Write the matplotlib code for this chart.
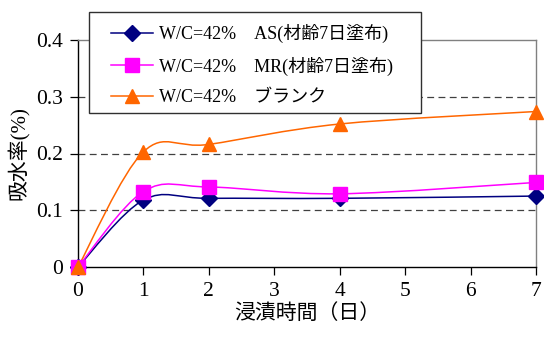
import numpy as np
import matplotlib
matplotlib.use("Agg")
import matplotlib.pyplot as plt
from matplotlib.path import Path
from matplotlib.patches import PathPatch, Rectangle
from matplotlib.lines import Line2D

# immersion days and water absorption (%)
days = [0, 1, 2, 4, 7]
as_vals = [0.0, 0.118, 0.121, 0.121, 0.125]
mr_vals = [0.0, 0.133, 0.141, 0.129, 0.149]
blank_vals = [0.0, 0.203, 0.216, 0.252, 0.274]

series_labels = [
    "W/C=42%\u3000AS(材齢7日塗布)",
    "W/C=42%\u3000MR(材齢7日塗布)",
    "W/C=42%\u3000ブランク",
]
series_colors = ["#000080", "#FF00FF", "#FF6600"]
series_markers = ["D", "s", "^"]
series_msizes = [8, 10, 10.5]

x_ticks = [0, 1, 2, 3, 4, 5, 6, 7]
y_ticks = [0, 0.1, 0.2, 0.3, 0.4]
y_ticklabels = ["0", "0.1", "0.2", "0.3", "0.4"]

FAM = ["Liberation Serif", "Noto Sans CJK JP"]
plt.rcParams["font.family"] = FAM

W, H = 544, 340


def smooth_path(xs, ys):
    """Cubic Bezier through the points (Catmull-Rom style control points)."""
    pts = np.column_stack([xs, ys]).astype(float)
    n = len(pts)
    verts = [pts[0]]
    codes = [Path.MOVETO]
    for i in range(n - 1):
        p0 = pts[i - 1] if i > 0 else pts[i]
        p1 = pts[i]
        p2 = pts[i + 1]
        p3 = pts[i + 2] if i + 2 < n else pts[i + 1]
        c1 = p1 + (p2 - p0) / 6.0
        c2 = p2 - (p3 - p1) / 6.0
        verts += [c1, c2, p2]
        codes += [Path.CURVE4] * 3
    return Path(verts, codes)


fig = plt.figure(figsize=(W / 100, H / 100), dpi=100)
ax = fig.add_axes([78 / W, 1 - 267 / H, (536 - 78) / W, (267 - 40) / H])

ax.set_xlim(0, 7)
ax.set_ylim(0, 0.4)

# horizontal dashed gridlines
for yv in y_ticks[1:4]:
    ax.axhline(yv, color="#404040", lw=0.9, ls=(0, (5.5, 3.5)), zorder=1)

handles = []
for vals, lab, col, mk, ms in zip([as_vals, mr_vals, blank_vals], series_labels,
                                  series_colors, series_markers, series_msizes):
    patch = PathPatch(smooth_path(days, vals), facecolor="none", edgecolor=col,
                      lw=1.1, zorder=3)
    ax.add_patch(patch)
    ax.plot(days, vals, ls="none", marker=mk, ms=ms, color=col,
            markeredgecolor=col, clip_on=False, zorder=4)
    handles.append(Line2D([], [], color=col, lw=1.1, marker=mk, ms=ms,
                          markeredgecolor=col, label=lab))

ax.set_xticks(x_ticks)
ax.set_yticks(y_ticks)
ax.set_yticklabels(y_ticklabels)
ax.tick_params(axis="both", direction="out", length=6, width=0.9,
               labelsize=15.5, pad=5)

for side in ["left", "bottom"]:
    ax.spines[side].set_color("black")
    ax.spines[side].set_linewidth(1.0)
for side in ["top", "right"]:
    ax.spines[side].set_color("#808080")
    ax.spines[side].set_linewidth(1.0)

ax.set_ylabel("吸水率(%)", fontsize=15, labelpad=4)
ax.set_xlabel("浸漬時間（日）", fontsize=15, labelpad=2)

# legend box drawn as a plain rectangle, entries placed inside it
box = Rectangle((89 / W, 1 - 113 / H), (421 - 89) / W, (113 - 12) / H,
                transform=fig.transFigure, facecolor="white",
                edgecolor="#303030", lw=1.0, zorder=9)
fig.add_artist(box)

leg = fig.legend(handles=handles, loc="upper left",
                 bbox_to_anchor=(111 / W, 1 - 24 / H),
                 bbox_transform=fig.transFigure, borderaxespad=0,
                 fontsize=13, handlelength=2.3, handletextpad=0.35,
                 labelspacing=0.75, borderpad=0, frameon=False)
leg.set_zorder(10)

fig.savefig("out.png", dpi=100)
